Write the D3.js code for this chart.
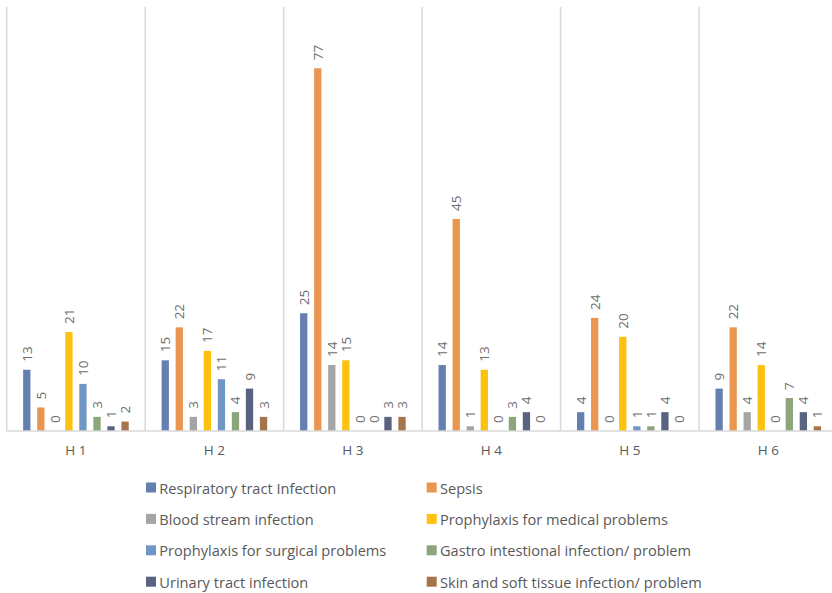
<!DOCTYPE html>
<html>
<head>
<meta charset="utf-8">
<script src="https://cdn.jsdelivr.net/npm/d3@7"></script>
<style>
  body { margin: 0; background: #fff; }
  svg { display: block; }
</style>
</head>
<body>
<div id="chart"></div>
<script>
// hospitals along the x axis
const hospitals = ["H 1", "H 2", "H 3", "H 4", "H 5", "H 6"];

const seriesNames = [
  "Respiratory tract Infection",
  "Sepsis",
  "Blood stream infection",
  "Prophylaxis for medical problems",
  "Prophylaxis for surgical problems",
  "Gastro intestional infection/ problem",
  "Urinary tract infection",
  "Skin and soft tissue infection/ problem"
];

// one array per series, values for H1..H6
const respiratory = [13, 15, 25, 14, 4, 9];
const sepsis = [5, 22, 77, 45, 24, 22];
const bloodStream = [0, 3, 14, 1, 0, 4];
const prophMedical = [21, 17, 15, 13, 20, 14];
const prophSurgical = [10, 11, 0, 0, 1, 0];
const gastro = [3, 4, 0, 3, 1, 7];
const urinary = [1, 9, 3, 4, 4, 4];
const skin = [2, 3, 3, 0, 0, 1];

const seriesValues = [respiratory, sepsis, bloodStream, prophMedical,
  prophSurgical, gastro, urinary, skin];

const colors = ["#6580b0", "#eb9650", "#a5a5a5", "#fdc10f",
  "#6f97c6", "#8da57b", "#59637f", "#a5744b"];

const width = 832, height = 593;
const margin = { top: 7, left: 6.7 };
const plotW = 830.8, plotH = 424;

const svg = d3.select("#chart").append("svg")
  .attr("width", width)
  .attr("height", height);

const x0 = d3.scaleBand()
  .domain(hospitals)
  .range([margin.left, margin.left + plotW]);

const x1 = d3.scaleBand()
  .domain(d3.range(seriesNames.length))
  .range([0, x0.bandwidth()])
  .paddingInner(0.48)
  .paddingOuter(1.17);

const y = d3.scaleLinear()
  .domain([0, 90])
  .range([margin.top + plotH, margin.top]);

// vertical separators between categories
const bounds = hospitals.map(h => x0(h)).concat([x0(hospitals[5]) + x0.bandwidth()]);
svg.append("g")
  .selectAll("line")
  .data(bounds)
  .join("line")
  .attr("x1", d => d).attr("x2", d => d)
  .attr("y1", y(90)).attr("y2", y(0))
  .attr("stroke", "#d9d9d9")
  .attr("stroke-width", 1.5);

const groups = svg.append("g")
  .selectAll("g")
  .data(hospitals)
  .join("g")
  .attr("transform", d => `translate(${x0(d)},0)`);

const cells = groups.selectAll("g")
  .data((h, hi) => seriesValues.map((vals, si) => ({ si, v: vals[hi] })))
  .join("g");

cells.append("rect")
  .attr("x", d => x1(d.si))
  .attr("width", x1.bandwidth())
  .attr("y", d => y(d.v))
  .attr("height", d => y(0) - y(d.v))
  .attr("fill", d => colors[d.si]);

cells.append("text")
  .attr("transform", d => `translate(${x1(d.si) + x1.bandwidth() / 2},${y(d.v) - 8}) rotate(-90)`)
  .attr("dominant-baseline", "central")
  .attr("font-family", "Open Sans, sans-serif")
  .attr("font-size", "13.5px")
  .attr("fill", "#6d6d6d")
  .text(d => d.v);

// baseline
svg.append("line")
  .attr("x1", margin.left).attr("x2", margin.left + plotW)
  .attr("y1", y(0)).attr("y2", y(0))
  .attr("stroke", "#d9d9d9")
  .attr("stroke-width", 1.5);

// category labels
svg.append("g")
  .selectAll("text")
  .data(hospitals)
  .join("text")
  .attr("x", d => x0(d) + x0.bandwidth() / 2)
  .attr("y", 455)
  .attr("text-anchor", "middle")
  .attr("font-family", "Open Sans, sans-serif")
  .attr("font-size", "13.5px")
  .attr("fill", "#595959")
  .text(d => d);

// legend, two columns
const legend = svg.append("g")
  .selectAll("g")
  .data(seriesNames)
  .join("g")
  .attr("transform", (d, i) => `translate(${i % 2 === 0 ? 146 : 426.7},${487.5 + Math.floor(i / 2) * 31.4})`);

legend.append("rect")
  .attr("x", 0).attr("y", -5)
  .attr("width", 10).attr("height", 10)
  .attr("fill", (d, i) => colors[i]);

legend.append("text")
  .attr("x", 13.3)
  .attr("dominant-baseline", "central")
  .attr("font-family", "Open Sans, sans-serif")
  .attr("font-size", "14.6px")
  .attr("fill", "#595959")
  .text(d => d);
</script>
</body>
</html>
